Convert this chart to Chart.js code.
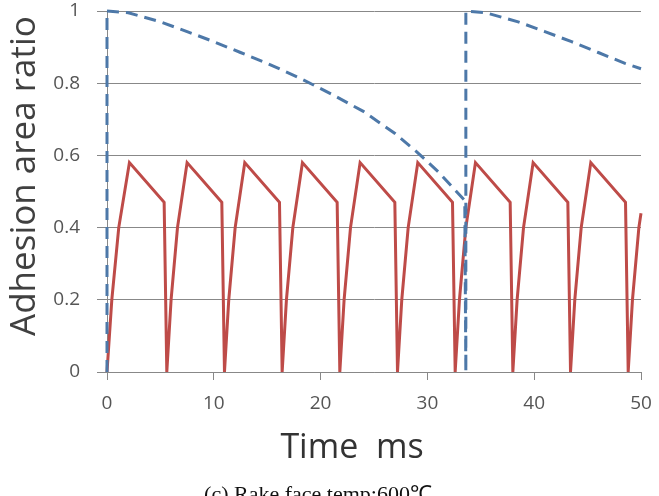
<!DOCTYPE html>
<html>
<head>
<meta charset="utf-8">
<script src="https://cdn.jsdelivr.net/npm/chart.js@4.4.1/dist/chart.umd.min.js"></script>
<style>
  html, body { margin: 0; padding: 0; background: #fff; overflow: hidden; }
  #wrap { position: relative; width: 659px; height: 496px; }
</style>
</head>
<body>
<div id="wrap"><canvas id="chart"></canvas></div>
<script>
const x_ticks = [0, 10, 20, 30, 40, 50];
const y_ticks = [0, 0.2, 0.4, 0.6, 0.8, 1];
const y_tick_labels = ["0", "0.2", "0.4", "0.6", "0.8", "1"];

// red solid sawtooth (time ms / ratio)
const red_time = [0, 0.45, 1.1, 2.1, 5.35, 5.6, 6.0, 6.6, 7.5, 10.75, 11.0, 11.4, 12.0, 12.9, 16.15, 16.4, 16.8, 17.4, 18.3,
  21.55, 21.8, 22.2, 22.8, 23.7, 26.95, 27.2, 27.6, 28.2, 29.1, 32.35, 32.6, 33.0, 33.6, 34.5, 37.75, 38.0, 38.4, 39.0, 39.9,
  43.15, 43.4, 43.8, 44.4, 45.3, 48.55, 48.8, 49.2, 49.8, 50];
const red_ratio = [0, 0.2, 0.40, 0.58, 0.47, 0, 0.2, 0.40, 0.58, 0.47, 0, 0.2, 0.40, 0.58, 0.47, 0, 0.2, 0.40, 0.58,
  0.47, 0, 0.2, 0.40, 0.58, 0.47, 0, 0.2, 0.40, 0.58, 0.47, 0, 0.2, 0.40, 0.58, 0.47, 0, 0.2, 0.40, 0.58,
  0.47, 0, 0.2, 0.40, 0.58, 0.47, 0, 0.2, 0.40, 0.44];

// blue dashed curve
const blue_time = [0, 0, 2, 5, 7.5, 10, 12.5, 15, 18, 21, 24, 27, 29, 31, 33.5, 33.6, 33.6,
  35.5, 38.5, 41, 43.5, 46, 48.5, 50];
const blue_ratio = [0, 1, 0.995, 0.97, 0.943, 0.915, 0.885, 0.855, 0.815, 0.77, 0.722, 0.66, 0.61, 0.555, 0.475, 0, 1,
  0.995, 0.97, 0.943, 0.915, 0.885, 0.855, 0.84];

const x_title = "Time  ms";
const y_title = "Adhesion area ratio";
const caption = "(c) Rake face temp:600\u2103";

const red_points = red_time.map((t, i) => ({ x: t, y: red_ratio[i] }));
const blue_points = blue_time.map((t, i) => ({ x: t, y: blue_ratio[i] }));

const text_plugin = {
  id: "texts",
  afterDraw(chart) {
    const ctx = chart.ctx;
    ctx.save();
    ctx.textAlign = "center";
    ctx.textBaseline = "alphabetic";

    ctx.fillStyle = "#404040";
    ctx.font = "35px 'Open Sans'";
    ctx.save();
    ctx.translate(35, 176);
    ctx.rotate(-Math.PI / 2);
    ctx.fillText(y_title, 0, 0);
    ctx.restore();

    ctx.fillStyle = "#333333";
    ctx.font = "34px 'Open Sans'";
    ctx.fillText(x_title, 352, 458);

    ctx.fillStyle = "#111111";
    ctx.font = "22px 'Liberation Serif'";
    ctx.fillText(caption, 318, 501);
    ctx.restore();
  },
};

new Chart(document.getElementById("chart"), {
  type: "scatter",
  data: {
    datasets: [
      {
        label: "blue",
        data: blue_points,
        showLine: true,
        borderColor: "#4d78a8",
        borderWidth: 3,
        borderDash: [12, 7],
        pointRadius: 0,
        clip: false,
        order: 0,
      },
      {
        label: "red",
        data: red_points,
        showLine: true,
        borderColor: "#be4b48",
        borderWidth: 3,
        pointRadius: 0,
        clip: 3,
        order: 1,
      },
    ],
  },
  options: {
    responsive: true,
    maintainAspectRatio: false,
    animation: false,
    layout: { padding: 0 },
    plugins: { legend: { display: false }, tooltip: { enabled: false } },
    scales: {
      x: {
        type: "linear",
        min: 0,
        max: 50,
        afterFit: (s) => {
          s.height = 124;
          s.paddingLeft = 0;
          s.paddingRight = 18;
        },
        afterBuildTicks: (s) => { s.ticks = x_ticks.map((v) => ({ value: v })); },
        ticks: { color: "#555555", font: { family: "Open Sans", size: 19 }, padding: 12 },
        grid: { drawOnChartArea: false, drawTicks: true, tickLength: 8, color: "#888888" },
        border: { color: "#888888" },
      },
      y: {
        min: 0,
        max: 1,
        afterFit: (s) => {
          s.width = 107;
          s.paddingTop = 11;
          s.paddingBottom = 0;
        },
        afterBuildTicks: (s) => { s.ticks = y_ticks.map((v) => ({ value: v })); },
        ticks: {
          color: "#555555",
          font: { family: "Open Sans", size: 19 },
          padding: 17,
          callback: (v) => y_tick_labels[y_ticks.indexOf(v)],
        },
        grid: { color: "#888888", tickLength: 10 },
        border: { color: "#888888" },
      },
    },
  },
  plugins: [text_plugin],
});
</script>
</body>
</html>
